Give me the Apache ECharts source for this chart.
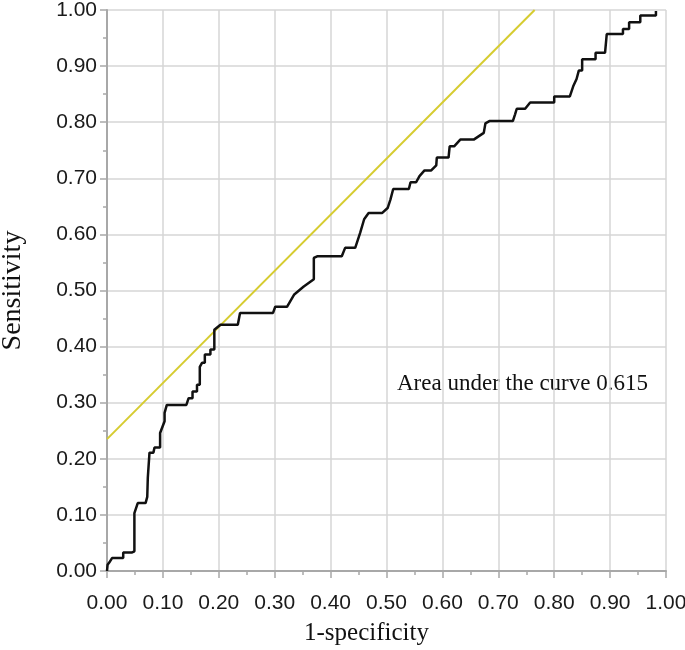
<!DOCTYPE html>
<html>
<head>
<meta charset="utf-8">
<title>ROC</title>
<script src="https://cdn.jsdelivr.net/npm/echarts@6/dist/echarts.min.js"></script>
<style>
    html, body { margin: 0; padding: 0; background: #fff; }
    #chart { width: 685px; height: 650px; }
</style>
</head>
<body>
<div id="chart"></div>
<script>
// ROC 曲线 (1-specificity, sensitivity)
var fprValues = [0, 0.001, 0.004, 0.009, 0.029, 0.029, 0.045, 0.049, 0.049, 0.055, 0.069, 0.072, 0.073, 0.076, 0.076,
    0.083, 0.085, 0.095, 0.095, 0.103, 0.103, 0.107, 0.142, 0.146, 0.153, 0.153, 0.161, 0.161, 0.166, 0.166,
    0.170, 0.175, 0.175, 0.185, 0.185, 0.192, 0.192, 0.203, 0.234, 0.238, 0.297, 0.301, 0.322, 0.335, 0.352,
    0.370, 0.370, 0.376, 0.420, 0.426, 0.444, 0.453, 0.460, 0.468, 0.492, 0.502, 0.507, 0.512, 0.540, 0.543,
    0.553, 0.559, 0.568, 0.580, 0.589, 0.590, 0.611, 0.613, 0.621, 0.632, 0.656, 0.674, 0.677, 0.684, 0.726,
    0.730, 0.733, 0.748, 0.757, 0.800, 0.800, 0.828, 0.834, 0.840, 0.844, 0.850, 0.850, 0.874, 0.874, 0.891,
    0.894, 0.923, 0.923, 0.934, 0.934, 0.954, 0.954, 0.982, 0.982];
var tprValues = [0, 0.011, 0.015, 0.023, 0.023, 0.033, 0.033, 0.035, 0.103, 0.121, 0.121, 0.132, 0.166, 0.166, 0.211,
    0.211, 0.220, 0.220, 0.246, 0.267, 0.282, 0.296, 0.296, 0.308, 0.308, 0.320, 0.320, 0.332, 0.332, 0.364,
    0.371, 0.371, 0.386, 0.386, 0.395, 0.395, 0.430, 0.439, 0.439, 0.460, 0.460, 0.471, 0.471, 0.493, 0.507,
    0.520, 0.558, 0.561, 0.561, 0.576, 0.576, 0.603, 0.627, 0.638, 0.638, 0.647, 0.662, 0.681, 0.681, 0.693,
    0.693, 0.704, 0.714, 0.714, 0.723, 0.737, 0.737, 0.757, 0.757, 0.769, 0.769, 0.781, 0.798, 0.802, 0.802,
    0.814, 0.824, 0.824, 0.835, 0.835, 0.846, 0.846, 0.864, 0.877, 0.892, 0.892, 0.912, 0.912, 0.924, 0.924,
    0.957, 0.957, 0.966, 0.966, 0.978, 0.978, 0.990, 0.990, 0.998];
// 切线 (斜率 1)
var tangentX = [0, 0.765];
var tangentY = [0.235, 1.0];
var tickLabels = ['0.00', '0.10', '0.20', '0.30', '0.40', '0.50', '0.60', '0.70', '0.80', '0.90', '1.00'];
var aucText = 'Area under the curve 0.615';

function pairs(xs, ys) {
    var out = [];
    for (var i = 0; i < xs.length; i++) {
        out.push([xs[i], ys[i]]);
    }
    return out;
}

function axisCommon(name) {
    return {
        type: 'value',
        min: 0,
        max: 1,
        interval: 0.1,
        name: name,
        nameLocation: 'middle',
        nameTextStyle: { fontFamily: 'Liberation Serif', fontSize: 25, color: '#111' },
        axisLine: { show: true, lineStyle: { color: '#a8a8a8', width: 2 } },
        axisTick: { show: true, length: 7, lineStyle: { color: '#a8a8a8', width: 1.5 } },
        minorTick: { show: true, splitNumber: 2, length: 4, lineStyle: { color: '#a8a8a8', width: 1.5 } },
        splitLine: { show: true, lineStyle: { color: '#d6d6d6', width: 1.5 } },
        axisLabel: {
            fontFamily: 'Liberation Sans',
            fontSize: 21,
            color: '#1a1a1a',
            margin: 10,
            formatter: function (v) { return tickLabels[Math.round(v * 10)]; }
        }
    };
}

var chart = echarts.init(document.getElementById('chart'));

var xAxis = axisCommon('1-specificity');
xAxis.nameGap = 50;
xAxis.nameTextStyle.padding = [0, 40, 0, 0];
xAxis.axisLabel.margin = 22;

var yAxis = axisCommon('Sensitivity');
yAxis.nameGap = 80;
yAxis.nameRotate = 90;
yAxis.nameTextStyle.fontSize = 28;

var option = {
    animation: false,
    backgroundColor: '#fff',
    grid: { left: 107, right: 19, top: 10, bottom: 79, outerBoundsMode: 'none' },
    xAxis: xAxis,
    yAxis: yAxis,
    graphic: [{
        type: 'text',
        left: 397,
        top: 372,
        style: { text: aucText, font: '23px "Liberation Serif"', fill: '#111' }
    }],
    series: [
        {
            type: 'line',
            data: pairs(tangentX, tangentY),
            showSymbol: false,
            lineStyle: { color: '#d6cc30', width: 2 },
            z: 2
        },
        {
            type: 'line',
            data: pairs(fprValues, tprValues),
            showSymbol: false,
            lineStyle: { color: '#111', width: 2.5 },
            z: 3
        }
    ]
};

chart.setOption(option);
</script>
</body>
</html>
